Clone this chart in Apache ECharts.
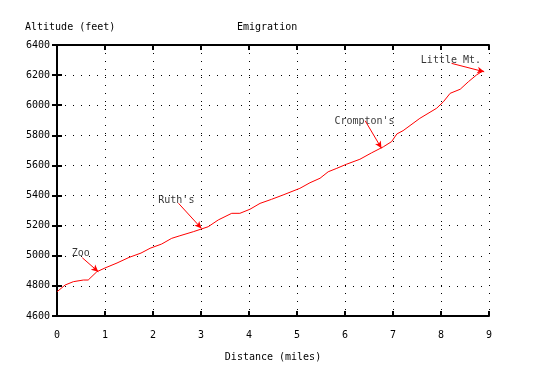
<!DOCTYPE html>
<html><head><meta charset="utf-8">
<script src="https://cdn.jsdelivr.net/npm/echarts@6/dist/echarts.min.js"></script>
<style>html,body{margin:0;padding:0;background:#fff}#c{width:533px;height:370px}</style>
</head><body><div id="c"></div>
<script>
// Route profile: distance (miles) and altitude (feet)
var dist = [0, 0.17, 0.34, 0.55, 0.65, 0.83, 1.0, 1.25, 1.5, 1.75, 1.94, 2.18, 2.39, 2.56, 2.84, 3.01, 3.15, 3.36, 3.64, 3.81, 4.02, 4.23, 4.47, 4.71, 5.06, 5.27, 5.48, 5.65, 5.83, 6.03, 6.31, 6.55, 6.80, 6.97, 7.08, 7.21, 7.56, 7.91, 8.05, 8.19, 8.40, 8.57, 8.74, 8.88];
var alt = [4761, 4806, 4828, 4839, 4839, 4894, 4919, 4952, 4989, 5018, 5050, 5078, 5116, 5133, 5160, 5178, 5193, 5238, 5282, 5282, 5309, 5348, 5375, 5404, 5448, 5485, 5515, 5558, 5581, 5608, 5641, 5683, 5724, 5758, 5809, 5831, 5913, 5980, 6023, 6079, 6106, 6156, 6201, 6229];
var xTicks = [0,1,2,3,4,5,6,7,8,9];
var yTicks = [4600,4800,5000,5200,5400,5600,5800,6000,6200,6400];
// Annotations (data coordinates)
var labelNames = ["Zoo", "Ruth's", "Crompton's", "Little Mt."];
var labelX = [0.307, 2.11, 5.78, 7.58];
var labelY = [5018, 5367, 5895, 6297];
var arrowFromX = [0.527, 2.53, 6.42, 8.22];
var arrowFromY = [4987, 5349, 5897, 6278];
var arrowToX = [0.86, 3.01, 6.76, 8.90];
var arrowToY = [4894, 5182, 5714, 6222];

var FONT = 'DejaVu Sans Mono';
var lineData = dist.map(function(d,i){return [d, alt[i]];});
var labelData = labelNames.map(function(n,i){return {name:n, value:[labelX[i], labelY[i]]};});
var arrows = labelNames.map(function(n,i){return [{coord:[arrowFromX[i], arrowFromY[i]]},{coord:[arrowToX[i], arrowToY[i]]}];});

var axisLine = {show:true, lineStyle:{color:'#000', width:2}};
var axisTick = {show:true, inside:true, length:5, lineStyle:{color:'#000', width:2}};
var split = {show:true, lineStyle:{color:'#000', width:1, type:[1,7]}};
var xMin = xTicks[0], xMax = xTicks[xTicks.length-1], xInt = xTicks[1]-xTicks[0];
var yMin = yTicks[0], yMax = yTicks[yTicks.length-1], yInt = yTicks[1]-yTicks[0];
var plain = function(v){return String(v);};

var chart = echarts.init(document.getElementById('c'), null, {renderer:'canvas'});
chart.setOption({
  animation:false,
  backgroundColor:'#fff',
  title:[
    {text:'Emigration', left:237, top:22, padding:0, textStyle:{fontFamily:FONT, fontSize:10, fontWeight:'normal', color:'#000'}},
    {text:'Altitude (feet)', left:25, top:22, padding:0, textStyle:{fontFamily:FONT, fontSize:10, fontWeight:'normal', color:'#000'}}
  ],
  grid:{left:57, right:44, top:45, bottom:54, containLabel:false},
  xAxis:[
    {type:'value', min:xMin, max:xMax, interval:xInt, position:'bottom',
     name:'Distance (miles)', nameLocation:'middle', nameGap:36,
     nameTextStyle:{fontFamily:FONT, fontSize:10, color:'#000'},
     axisLine:axisLine, axisTick:axisTick, splitLine:split,
     axisLabel:{fontFamily:FONT, fontSize:10, color:'#000', margin:14, formatter:plain}},
    {type:'value', min:xMin, max:xMax, interval:xInt, position:'top',
     axisLine:axisLine, axisTick:axisTick, splitLine:{show:false}, axisLabel:{show:false}}
  ],
  yAxis:[
    {type:'value', min:yMin, max:yMax, interval:yInt, position:'left',
     axisLine:axisLine, axisTick:axisTick, splitLine:split,
     axisLabel:{fontFamily:FONT, fontSize:10, color:'#000', margin:7, formatter:plain}},
    {type:'value', min:yMin, max:yMax, interval:yInt, position:'right',
     axisLine:axisLine, axisTick:axisTick, splitLine:{show:false}, axisLabel:{show:false}}
  ],
  series:[
    {type:'line', data:lineData, showSymbol:false, symbol:'none',
     lineStyle:{color:'#ff0000', width:1}, silent:true,
     markLine:{silent:true, symbol:['none','arrow'], symbolSize:[5,7],
       lineStyle:{color:'#ff0000', width:1, type:'solid'}, label:{show:false},
       data:arrows}},
    {type:'scatter', data:labelData, symbolSize:0, silent:true,
     label:{show:true, position:'right', distance:0, formatter:'{b}',
       fontFamily:FONT, fontSize:10, color:'#000'}}
  ]
});
</script></body></html>
